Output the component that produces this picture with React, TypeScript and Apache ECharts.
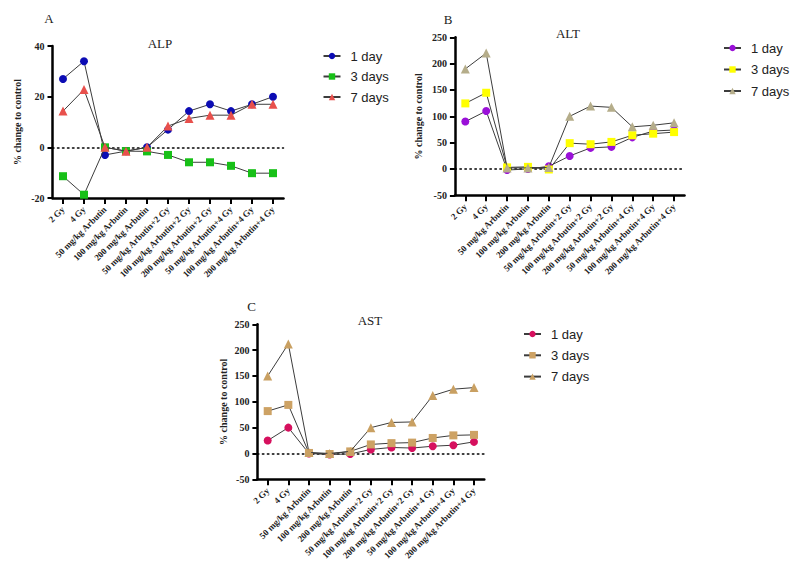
import React, { useEffect, useRef } from "react";
import * as echarts from "echarts";

const categories = [
  "2 Gy",
  "4 Gy",
  "50 mg/kg Arbutin",
  "100 mg/kg Arbutin",
  "200 mg/kg Arbutin",
  "50 mg/kg Arbutin+2 Gy",
  "100 mg/kg Arbutin+2 Gy",
  "200 mg/kg Arbutin+2 Gy",
  "50 mg/kg Arbutin+4 Gy",
  "100 mg/kg Arbutin+4 Gy",
  "200 mg/kg Arbutin+4 Gy",
];

const dayNames = ["1 day", "3 days", "7 days"];

const alp1 = [27, 34, -3, -1.5, 0, 7, 14.3, 17, 14.3, 17, 20];
const alp3 = [-11.4, -18.7, 0, -1.5, -1.6, -3, -5.9, -5.9, -7.3, -10.2, -10.2];
const alp7 = [14.3, 22.8, 0, -1.5, 0, 8.4, 11.4, 12.7, 12.7, 17, 17];

const alt1 = [90, 110, -2, 0, 5, 24.7, 40, 42, 60, 72, 74];
const alt3 = [124.5, 144.7, 3, 4, -1, 49, 47, 51.4, 64, 67, 70];
const alt7 = [190, 220, 2, 2, 3, 100, 119.4, 117, 80, 83, 87.6];

const ast1 = [25, 50, 0, -2, -1, 7.8, 11.6, 10.5, 14, 16, 22.5];
const ast3 = [82, 94, 1, -1, 4, 17.5, 20, 21, 30, 35, 36];
const ast7 = [150, 212, 2, 0, 4, 50, 60, 61, 112, 124.4, 127.5];

const yTicksA = { min: -20, max: 40, interval: 20 };
const yTicksBC = { min: -50, max: 250, interval: 50 };

const SERIF = "Liberation Serif";
const SANS = "Liberation Sans";
const LINE = "#3c3c3c";
const AXIS = "#000000";

type Panel = {
  key: string;
  letter: string;
  title: string;
  data: number[][];
  colors: string[];
  grid: { left: number; top: number; width: number; height: number };
  yRange: { min: number; max: number; interval: number };
  nameGap: number;
  legend: { left: number; top: number; gap: number };
  letterPos: [number, number];
  titlePos: [number, number];
};

const panels: Panel[] = [
  {
    key: "ALP",
    letter: "A",
    title: "ALP",
    data: [alp1, alp3, alp7],
    colors: ["#0c0cb4", "#18c018", "#e8504c"],
    grid: { left: 52.5, top: 46, width: 231, height: 152 },
    yRange: yTicksA,
    nameGap: 30,
    legend: { left: 322.5, top: 49, gap: 6.5 },
    letterPos: [49, 18],
    titlePos: [160, 43],
  },
  {
    key: "ALT",
    letter: "B",
    title: "ALT",
    data: [alt1, alt3, alt7],
    colors: ["#9a10d8", "#ffff00", "#b5ad8a"],
    grid: { left: 454.9, top: 37.3, width: 229.6, height: 158 },
    yRange: yTicksBC,
    nameGap: 31,
    legend: { left: 723, top: 41, gap: 7.5 },
    letterPos: [448, 19],
    titlePos: [568, 33],
  },
  {
    key: "AST",
    letter: "C",
    title: "AST",
    data: [ast1, ast3, ast7],
    colors: ["#d6105e", "#cda264", "#c9a062"],
    grid: { left: 257.4, top: 324.3, width: 226.9, height: 155 },
    yRange: yTicksBC,
    nameGap: 29,
    legend: { left: 523, top: 327, gap: 7.3 },
    letterPos: [251.7, 306.7],
    titlePos: [370, 320],
  },
];

const symbols = ["circle", "rect", "triangle"];
const symbolSizes = [8, 8, 9];

export default function App() {
  const ref = useRef<HTMLDivElement>(null);

  useEffect(() => {
    if (!ref.current) return;
    document.body.style.margin = "0";
    const chart = echarts.init(ref.current, undefined, { renderer: "svg" });

    const grids: any[] = [];
    const xAxes: any[] = [];
    const yAxes: any[] = [];
    const series: any[] = [];
    const legends: any[] = [];
    const graphics: any[] = [];

    panels.forEach((p, pi) => {
      grids.push({ ...p.grid });
      xAxes.push({
        type: "category",
        gridIndex: pi,
        position: "bottom",
        data: categories,
        axisLine: { show: true, onZero: false, lineStyle: { color: AXIS, width: 2.5 } },
        axisTick: { show: true, alignWithLabel: true, length: 6, lineStyle: { color: AXIS, width: 2 } },
        axisLabel: {
          interval: 0,
          rotate: 45,
          margin: 10,
          color: "#222",
          fontFamily: SERIF,
          fontWeight: "bold",
          fontSize: 9,
        },
      });
      xAxes.push({
        type: "category",
        gridIndex: pi,
        position: "top",
        data: categories,
        axisLine: { show: true, onZero: true, lineStyle: { color: "#000000", width: 1.5, type: [1.5, 3.5] } },
        axisTick: { show: false },
        axisLabel: { show: false },
        splitLine: { show: false },
      });
      yAxes.push({
        type: "value",
        gridIndex: pi,
        min: p.yRange.min,
        max: p.yRange.max,
        interval: p.yRange.interval,
        name: "% change to control",
        nameLocation: "middle",
        nameGap: p.nameGap,
        nameTextStyle: { fontFamily: SERIF, fontWeight: "bold", fontSize: 10, color: "#222" },
        axisLine: { show: true, lineStyle: { color: AXIS, width: 2.5 } },
        axisTick: { show: true, length: 5, lineStyle: { color: AXIS, width: 2 } },
        axisLabel: { margin: 8, color: "#222", fontFamily: SERIF, fontWeight: "bold", fontSize: 10 },
        splitLine: { show: false },
      });
      p.data.forEach((vals, si) => {
        series.push({
          type: "line",
          name: p.key + "|" + dayNames[si],
          xAxisIndex: pi * 2,
          yAxisIndex: pi,
          data: vals,
          symbol: symbols[si],
          symbolSize: symbolSizes[si],
          lineStyle: { color: LINE, width: 1 },
          itemStyle: { color: p.colors[si] },
          z: 3 + si,
        });
      });
      legends.push({
        orient: "vertical",
        left: p.legend.left,
        top: p.legend.top,
        padding: 0,
        itemWidth: 17,
        itemHeight: 8,
        itemGap: p.legend.gap,
        data: dayNames.map((d) => p.key + "|" + d),
        formatter: (n: string) => n.split("|")[1],
        textStyle: { fontFamily: SANS, fontSize: 13, color: "#222", lineHeight: 14, padding: [0, 0, 0, 5] },
        selectedMode: false,
      });
      graphics.push({
        type: "text",
        x: p.letterPos[0],
        y: p.letterPos[1],
        style: { text: p.letter, fontFamily: SERIF, fontSize: 13, fill: "#222", align: "center", verticalAlign: "middle" },
      });
      graphics.push({
        type: "text",
        x: p.titlePos[0],
        y: p.titlePos[1],
        style: { text: p.title, fontFamily: SERIF, fontSize: 13, fill: "#222", align: "center", verticalAlign: "middle" },
      });
    });

    chart.setOption({
      animation: false,
      grid: grids,
      xAxis: xAxes,
      yAxis: yAxes,
      series,
      legend: legends,
      graphic: graphics,
    });

    return () => chart.dispose();
  }, []);

  return <div ref={ref} style={{ width: 800, height: 571 }} />;
}
